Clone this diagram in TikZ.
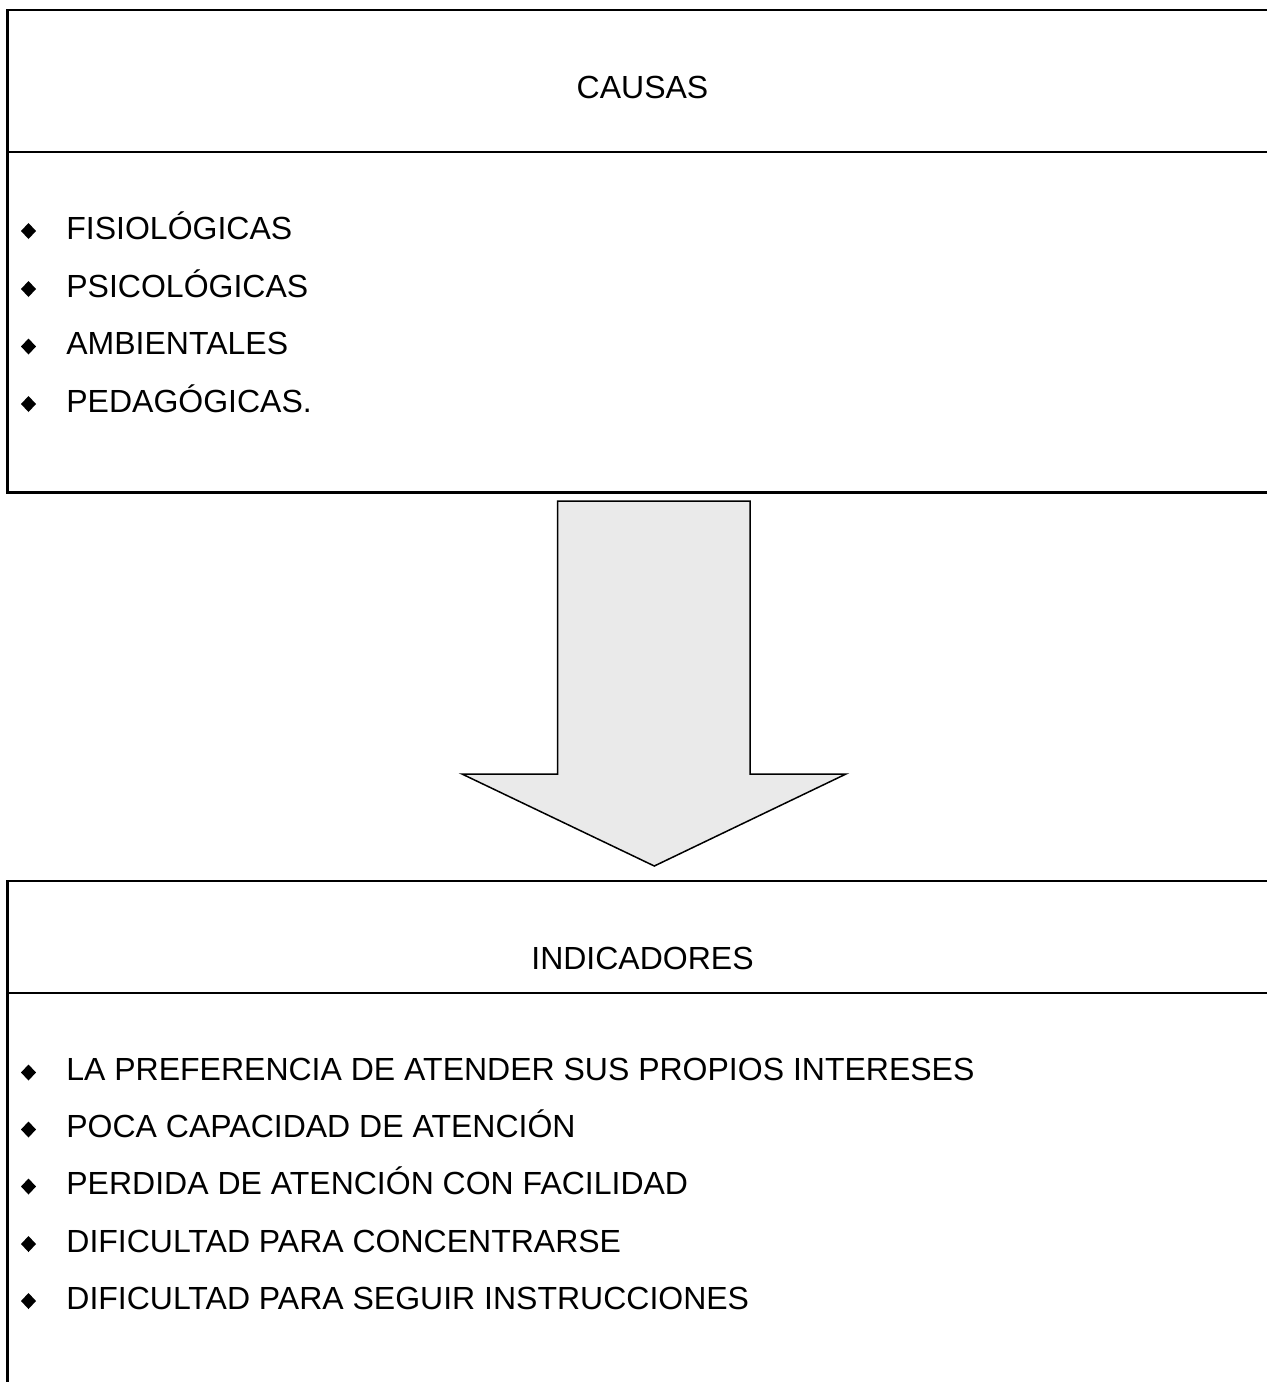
\documentclass[tikz,border=0pt]{standalone}
\usepackage{fontspec}
\setmainfont{Liberation Sans}
\definecolor{arrowfill}{RGB}{234,234,234}
\begin{document}
\begin{tikzpicture}[x=0.5pt,y=-0.5pt,
  boxline/.style={draw=black,line width=1.2pt},
  arrowline/.style={draw=black,line width=0.75pt,fill=arrowfill,line join=miter},
  headtext/.style={inner sep=0pt,anchor=base,font=\fontsize{16}{19}\selectfont},
  itemtext/.style={inner sep=0pt,anchor=base west,font=\fontsize{16}{19}\selectfont},
  bulletpt/.style={inner sep=0pt,minimum size=0pt}]
\newcommand{\bulletdiamond}[1]{\fill[black] (#1) ++(0,-8) -- ++(7.5,8) -- ++(-7.5,8) -- ++(-7.5,-8) -- cycle;}
\useasboundingbox (0,0) rectangle (1267,1382);
\clip (0,0) rectangle (1267,1382);
% top box
\draw[boxline] (1300,10) -- (7.5,10) -- (7.5,492.5) -- (1300,492.5);
\draw[boxline] (7.5,152) -- (1300,152);
\node[headtext] (causas) at (642.5,98) {CAUSAS};
\foreach \t/\b [count=\i] in {FISIOLÓGICAS/239,PSICOLÓGICAS/297,AMBIENTALES/354.5,PEDAGÓGICAS./412}{
  \node[bulletpt] (cb\i) at (28.5,\b-8) {};
  \bulletdiamond{cb\i}
  \node[itemtext] (ct\i) at (66,\b) {\t};
}
% block arrow
\draw[arrowline] (557.7,501) -- (750,501) -- (750,774) -- (846,774) -- (654.3,866) -- (462,774) -- (557.7,774) -- cycle;
% bottom box
\draw[boxline] (1300,881) -- (7.5,881) -- (7.5,1400);
\draw[boxline] (7.5,993) -- (1300,993);
\node[headtext] (indic) at (642.5,969) {INDICADORES};
\foreach \t/\b [count=\i] in {LA PREFERENCIA DE ATENDER SUS PROPIOS INTERESES/1080.5,POCA CAPACIDAD DE ATENCIÓN/1137.5,PERDIDA DE ATENCIÓN CON FACILIDAD/1194.5,DIFICULTAD PARA CONCENTRARSE/1252,DIFICULTAD PARA SEGUIR INSTRUCCIONES/1309}{
  \node[bulletpt] (ib\i) at (28.5,\b-8) {};
  \bulletdiamond{ib\i}
  \node[itemtext] (it\i) at (66,\b) {\t};
}
\end{tikzpicture}
\end{document}
